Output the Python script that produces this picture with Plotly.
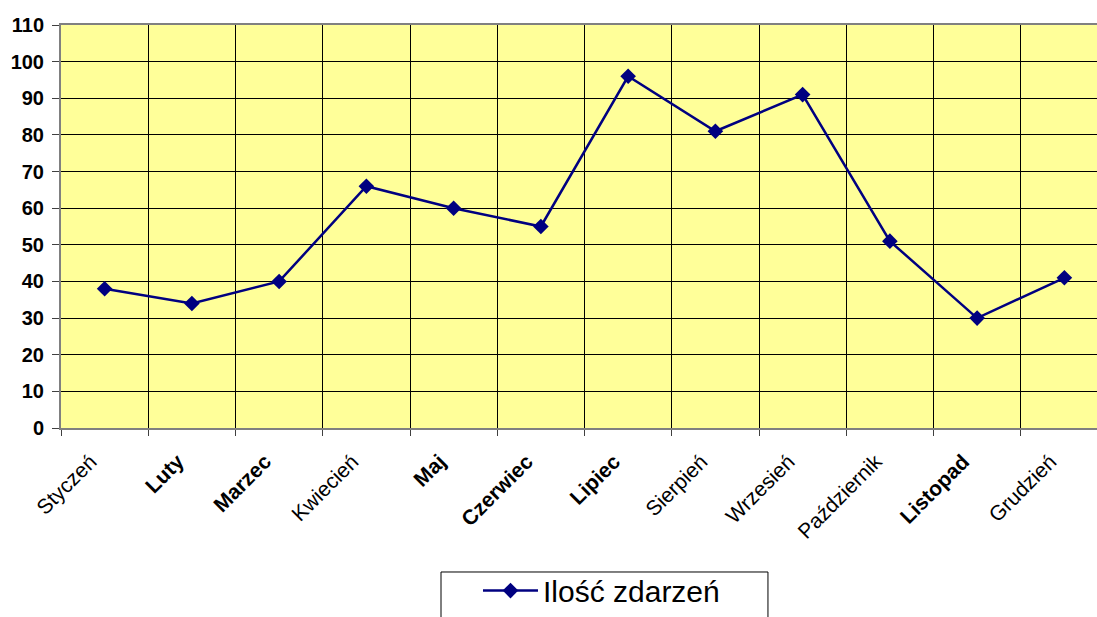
import plotly.graph_objects as go

months = ["Styczeń", "Luty", "Marzec", "Kwiecień", "Maj", "Czerwiec",
          "Lipiec", "Sierpień", "Wrzesień", "Październik", "Listopad", "Grudzień"]
bold_months = ["Luty", "Marzec", "Maj", "Czerwiec", "Lipiec", "Listopad"]
values = [38, 34, 40, 66, 60, 55, 96, 81, 91, 51, 30, 41]
y_ticks = [0, 10, 20, 30, 40, 50, 60, 70, 80, 90, 100, 110]
series_name = "Ilość zdarzeń"

tick_text = [f"<b>{m}</b>" if m in bold_months else m for m in months]

fig = go.Figure()
fig.add_trace(go.Scatter(
    x=months, y=values, name=series_name, mode="lines+markers",
    line=dict(color="#000080", width=2.5),
    marker=dict(symbol="diamond", size=12, color="#000080"),
    showlegend=True,
))

fig.update_layout(
    width=1097, height=617,
    margin=dict(l=61, r=0, t=25, b=189),
    paper_bgcolor="white",
    plot_bgcolor="#FFFF99",
    font=dict(family="Liberation Sans, Arial", color="black"),
    showlegend=True,
    legend=dict(
        orientation="h", x=0.4025, y=-0.468, xanchor="left", yanchor="bottom",
        borderwidth=0, bgcolor="rgba(0,0,0,0)", itemwidth=55,
        font=dict(size=30, family="Liberation Sans, Arial"),
    ),
    shapes=[dict(type="path", xref="paper", yref="paper",
                 path="M 0.3668,-0.47 L 0.3668,-0.3573 L 0.6824,-0.3573 L 0.6824,-0.47",
                 line=dict(color="black", width=1))],
)
fig.update_xaxes(
    type="category", categoryorder="array", categoryarray=months,
    range=[-0.5, 11.374], automargin=False,
    tickmode="array", tickvals=months, ticktext=tick_text,
    tickson="boundaries", ticks="outside", ticklen=6, tickcolor="#404040",
    tickangle=-45, tickfont=dict(size=21),
    ticklabelstandoff=11, ticklabelshift=-14,
    showgrid=True, gridcolor="black", gridwidth=1,
    showline=True, linecolor="#808080", linewidth=2, mirror=True,
)
fig.update_yaxes(
    range=[0, 110], tickmode="array", tickvals=y_ticks, automargin=False,
    ticktext=[f"<b>{v}</b>" for v in y_ticks],
    ticks="outside", ticklen=7, tickcolor="#404040",
    tickfont=dict(size=20), ticklabelstandoff=4,
    showgrid=True, gridcolor="black", gridwidth=1, zeroline=False,
    showline=True, linecolor="#808080", linewidth=2,
)

fig.write_html("out.html", config={"displayModeBar": False},
               post_script="document.body.style.margin='0';document.body.style.overflow='hidden';")
